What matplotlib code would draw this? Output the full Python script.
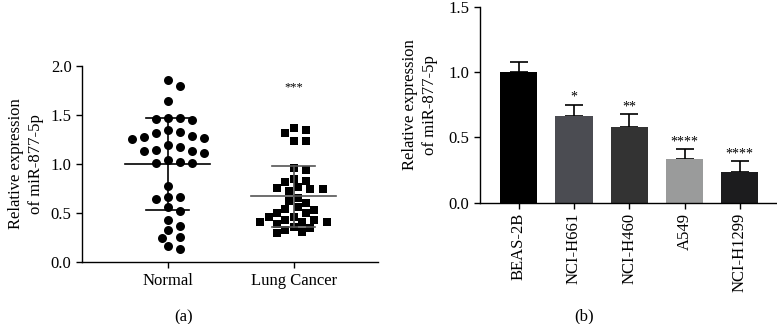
import numpy as np
import matplotlib
matplotlib.use("Agg")
import matplotlib.pyplot as plt

plt.rcParams['font.family'] = ['Liberation Serif', 'DejaVu Serif']
plt.rcParams['font.size'] = 12

# panel (a) data
normal = [1.857, 1.80, 1.647, 1.467, 1.45, 1.46, 1.47, 1.348, 1.317, 1.273,
          1.27, 1.26, 1.29, 1.33, 1.20, 1.13, 1.14, 1.17, 1.11, 1.13,
          1.04, 1.015, 1.008, 1.02, 0.778, 0.669, 0.645, 0.662, 0.567, 0.526,
          0.428, 0.37, 0.326, 0.251, 0.261, 0.166, 0.132]
cancer = [1.348, 1.365, 1.32, 1.24, 1.24, 0.94, 0.957, 0.849, 0.82, 0.76,
          0.744, 0.73, 0.75, 0.764, 0.832, 0.628, 0.659, 0.56, 0.60, 0.533,
          0.50, 0.465, 0.43, 0.414, 0.414, 0.43, 0.465, 0.50, 0.54, 0.414,
          0.363, 0.33, 0.30, 0.31, 0.346, 0.39]
groups = ["Normal", "Lung Cancer"]
means = [1.00, 0.67]
sds = [0.47, 0.31]

# panel (b) data
cells = ["BEAS-2B", "NCI-H661", "NCI-H460", "A549", "NCI-H1299"]
expr = [1.00, 0.663, 0.582, 0.332, 0.232]
err = [0.08, 0.087, 0.097, 0.079, 0.087]
stars = ["", "*", "**", "****", "****"]
bar_colors = ["#000000", "#4b4c52", "#333333", "#9a9b9b", "#1c1c1e"]


def swarm(vals, d, px_x, px_y, step):
    # simple beeswarm: put each point in the nearest free horizontal slot
    order = np.argsort(vals)[::-1]
    placed = []
    offs = np.zeros(len(vals))
    cands = [0.0]
    for k in range(1, 40):
        cands += [k * step / 2, -k * step / 2]
    for i in order:
        y = vals[i] * px_y
        for c in cands:
            x = c * px_x
            if all((x - px) ** 2 + (y - py) ** 2 >= d ** 2 for px, py in placed):
                placed.append((x, y))
                offs[i] = c
                break
    return offs


fig = plt.figure(figsize=(7.77, 3.24), dpi=100)
ax1 = fig.add_axes([0.1055, 0.191, 0.381, 0.605])
ax2 = fig.add_axes([0.6178, 0.3744, 0.382, 0.605])

px_x = 126.0
px_y = 98.0
specs = [("o", 42, 9.4, 0.095, "#000000"),
         ("s", 33, 8.6, 0.066, "#555555")]
for gi, (vals, (mk, s, d, step, lc)) in enumerate(zip([normal, cancer], specs)):
    vals = np.array(vals)
    off = swarm(vals, d, px_x, px_y, step)
    ax1.scatter(gi + off, vals, marker=mk, s=s, color="black", linewidths=0, zorder=2)
    m, sd = means[gi], sds[gi]
    ax1.plot([gi - 0.34, gi + 0.34], [m, m], color=lc, lw=1.2, zorder=3)
    ax1.plot([gi, gi], [m - sd, m + sd], color=lc, lw=1.2, zorder=3)
    for v in (m - sd, m + sd):
        ax1.plot([gi - 0.17, gi + 0.17], [v, v], color=lc, lw=1.2, zorder=3)

ax1.text(1, 1.72, "***", ha="center", va="bottom", fontsize=9)
ax1.set_xlim(-0.68, 1.67)
ax1.set_ylim(0, 2.0)
ax1.set_yticks([0, 0.5, 1.0, 1.5, 2.0])
ax1.set_yticklabels(["0.0", "0.5", "1.0", "1.5", "2.0"])
ax1.set_xticks([0, 1])
ax1.set_xticklabels(groups)
ax1.set_ylabel("Relative expression\nof miR-877-5p", labelpad=5, linespacing=1.3)

x = np.arange(len(cells))
ax2.bar(x, expr, width=0.67, color=bar_colors, zorder=2)
ax2.errorbar(x, expr, yerr=[np.zeros(len(err)), err], fmt="none",
             ecolor="black", elinewidth=1.2, capsize=6.5, capthick=1.2, zorder=1)
for xi, v, e, st in zip(x, expr, err, stars):
    if st:
        ax2.text(xi, v + e + 0.005, st, ha="center", va="bottom", fontsize=10)
ax2.set_xlim(-0.7, 4.67)
ax2.set_ylim(0, 1.5)
ax2.set_yticks([0, 0.5, 1.0, 1.5])
ax2.set_yticklabels(["0.0", "0.5", "1.0", "1.5"])
ax2.set_xticks(x)
ax2.set_xticklabels(cells, rotation=90)
ax2.set_ylabel("Relative expression\nof miR-877-5p", labelpad=8, linespacing=1.3)

for ax in (ax1, ax2):
    ax.spines["top"].set_visible(False)
    ax.spines["right"].set_visible(False)
    ax.spines["left"].set_linewidth(1.0)
    ax.spines["bottom"].set_linewidth(1.0)
    ax.tick_params(direction="out", length=4, width=1.0, labelsize=12)

fig.text(184 / 777, 1 - 317 / 324, "(a)", ha="center", va="center", fontsize=12)
fig.text(584 / 777, 1 - 316 / 324, "(b)", ha="center", va="center", fontsize=12)

fig.savefig("out.png", dpi=100)
